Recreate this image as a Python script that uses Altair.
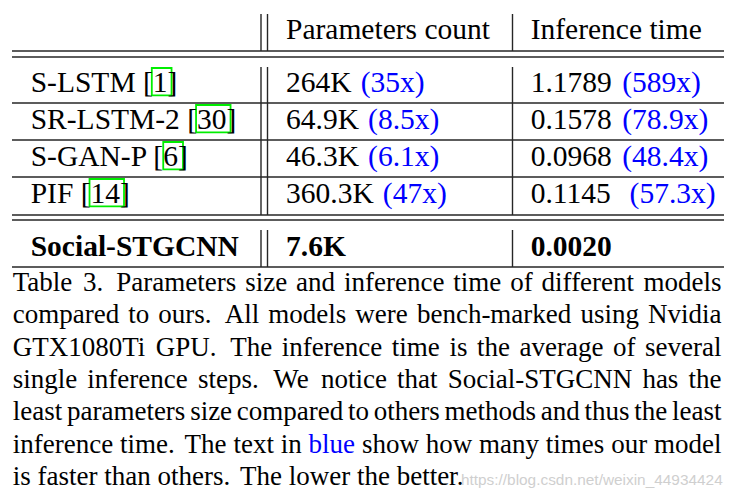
import altair as alt
import pandas as pd

# ------------------------------------------------------------------ data
headers = ["Parameters count", "Inference time"]
models = ["S-LSTM", "SR-LSTM-2", "S-GAN-P", "PIF"]
refs = ["1", "30", "6", "14"]
params = ["264K", "64.9K", "46.3K", "360.3K"]
param_ratio = ["(35x)", "(8.5x)", "(6.1x)", "(47x)"]
times = ["1.1789", "0.1578", "0.0968", "0.1145"]
time_ratio = ["(589x)", "(78.9x)", "(48.4x)", "(57.3x)"]
time_sep = [" ", " ", " ", "  "]
ours_model = "Social-STGCNN"
ours_params = "7.6K"
ours_time = "0.0020"

caption_lines = [
    "Table 3. Parameters size and inference time of different models",
    "compared to ours. All models were bench-marked using Nvidia",
    "GTX1080Ti GPU. The inference time is the average of several",
    "single inference steps. We notice that Social-STGCNN has the",
    "least parameters size compared to others methods and thus the least",
    "inference time. The text in blue show how many times our model",
    "is faster than others. The lower the better.",
]
caption_blue_words = ["blue"]
watermark = "https://blog.csdn.net/weixin_44934424"

# ------------------------------------------------------------------ layout / style
SERIF = "Liberation Serif, Times New Roman, serif"
SANS = "Liberation Sans, Arial, sans-serif"
FS = 29.5
CAP_FS = 27
WM_FS = 15.4
BLACK = "#000000"
BLUE = "#0000ff"
GREEN = "#00ee00"
LINE = "#262626"

COL_X = [30.7, 286.0, 530.7]
HEADER_BASE = 39
BODY_BASE = [92, 129, 166, 203]
OURS_BASE = 256
HLINES = [51, 57, 103, 140, 177, 215, 220, 267]
TABLE_X = (12, 724)
VLINES_X = [261, 267.5, 512.5]
VSEGMENTS = [(14, 51), (67, 215), (230, 267)]
CAP_X = (12.7, 721.5)
CAP_BASE0 = 291
CAP_STEP = 32.3

# Times-Roman advance widths (1/1000 em)
TW = {" ": 250, "!": 333, "(": 333, ")": 333, ",": 250, "-": 333, ".": 250,
      "/": 278, ":": 278, ";": 278, "[": 333, "]": 333, "_": 500}
for d in "0123456789":
    TW[d] = 500
TW.update(dict(A=722, B=667, C=667, D=722, E=611, F=556, G=722, H=722, I=333,
               J=389, K=722, L=611, M=889, N=722, O=722, P=556, Q=722, R=667,
               S=556, T=611, U=722, V=722, W=944, X=722, Y=722, Z=611))
TW.update(dict(a=444, b=500, c=444, d=500, e=444, f=333, g=500, h=500, i=278,
               j=278, k=500, l=278, m=778, n=500, o=500, p=500, q=500, r=333,
               s=389, t=278, u=500, v=500, w=722, x=500, y=500, z=444))


def tw(s, fs):
    return sum(TW.get(ch, 500) for ch in s) / 1000.0 * fs


# ------------------------------------------------------------------ build tables
normal_rows = []
bold_rows = []
boxes = []

for k, h in enumerate(headers):
    normal_rows.append(dict(x=COL_X[k + 1], y=HEADER_BASE, text=h, color=BLACK))

for i, m in enumerate(models):
    yb = BODY_BASE[i]
    label = f"{m} [{refs[i]}]"
    normal_rows.append(dict(x=COL_X[0], y=yb, text=label, color=BLACK))
    start = COL_X[0] + tw(f"{m} [", FS)
    end = start + tw(refs[i], FS)
    boxes.append(dict(x=start - 1, x2=end + 4, y=yb - 24, y2=yb + 3.3))

    normal_rows.append(dict(x=COL_X[1], y=yb, text=params[i], color=BLACK))
    normal_rows.append(dict(x=COL_X[1] + tw(params[i] + " ", FS) + 1.8, y=yb,
                            text=param_ratio[i], color=BLUE))
    normal_rows.append(dict(x=COL_X[2], y=yb, text=times[i], color=BLACK))
    normal_rows.append(dict(x=COL_X[2] + tw(times[i] + time_sep[i], FS) + 3, y=yb,
                            text=time_ratio[i], color=BLUE))

for k, t in enumerate([ours_model, ours_params, ours_time]):
    bold_rows.append(dict(x=COL_X[k], y=OURS_BASE, text=t, color=BLACK))

cap_rows = []
for li, line in enumerate(caption_lines):
    words = line.split(" ")
    widths = [tw(w, CAP_FS) for w in words]
    weights = [1.45 if w.endswith(".") else 1.0 for w in words[:-1]]
    last = li == len(caption_lines) - 1
    if last:
        unit = tw(" ", CAP_FS)
    else:
        unit = ((CAP_X[1] - CAP_X[0]) - sum(widths)) / sum(weights)
    x = CAP_X[0]
    yb = CAP_BASE0 + li * CAP_STEP
    for j, w in enumerate(words):
        cap_rows.append(dict(x=x, y=yb, text=w,
                             color=BLUE if w in caption_blue_words else BLACK))
        x += widths[j]
        if j < len(weights):
            x += unit * weights[j]
    if last:
        wm_x = x - 4
        wm_y = yb

hl = pd.DataFrame([dict(x=TABLE_X[0], x2=TABLE_X[1], y=y) for y in HLINES])
vl = pd.DataFrame([dict(x=vx, y=a, y2=b) for vx in VLINES_X for (a, b) in VSEGMENTS])

xs = alt.Scale(domain=[8, 724], nice=False, zero=False)
ys = alt.Scale(domain=[8, 494], nice=False, zero=False, reverse=True)
X = alt.X("x:Q", scale=xs, axis=None)
Y = alt.Y("y:Q", scale=ys, axis=None)
C = alt.Color("color:N", scale=None)

hrule = alt.Chart(hl).mark_rule(color=LINE, strokeWidth=1.4).encode(x=X, x2="x2:Q", y=Y)
vrule = alt.Chart(vl).mark_rule(color=LINE, strokeWidth=1.4).encode(x=X, y=Y, y2="y2:Q")
box = alt.Chart(pd.DataFrame(boxes)).mark_rect(
    fillOpacity=0, stroke=GREEN, strokeWidth=1.8).encode(x=X, x2="x2:Q", y=Y, y2="y2:Q")

txt = alt.Chart(pd.DataFrame(normal_rows)).mark_text(
    align="left", baseline="alphabetic", font=SERIF, fontSize=FS).encode(
    x=X, y=Y, text="text:N", color=C)
btxt = alt.Chart(pd.DataFrame(bold_rows)).mark_text(
    align="left", baseline="alphabetic", font=SERIF, fontSize=FS, fontWeight="bold").encode(
    x=X, y=Y, text="text:N", color=C)
ctxt = alt.Chart(pd.DataFrame(cap_rows)).mark_text(
    align="left", baseline="alphabetic", font=SERIF, fontSize=CAP_FS).encode(
    x=X, y=Y, text="text:N", color=C)
wtxt = alt.Chart(pd.DataFrame([dict(x=wm_x, y=wm_y, text=watermark)])).mark_text(
    align="left", baseline="alphabetic", font=SANS, fontSize=WM_FS, color="#cfcfcf").encode(
    x=X, y=Y, text="text:N")

chart = alt.layer(hrule, vrule, box, txt, btxt, ctxt, wtxt).properties(
    width=716, height=486, autosize=alt.AutoSizeParams(type="none"), padding=0,
    background="white",
).configure_view(strokeWidth=0)

chart.save("out.html", embed_options={"renderer": "svg", "actions": False})
